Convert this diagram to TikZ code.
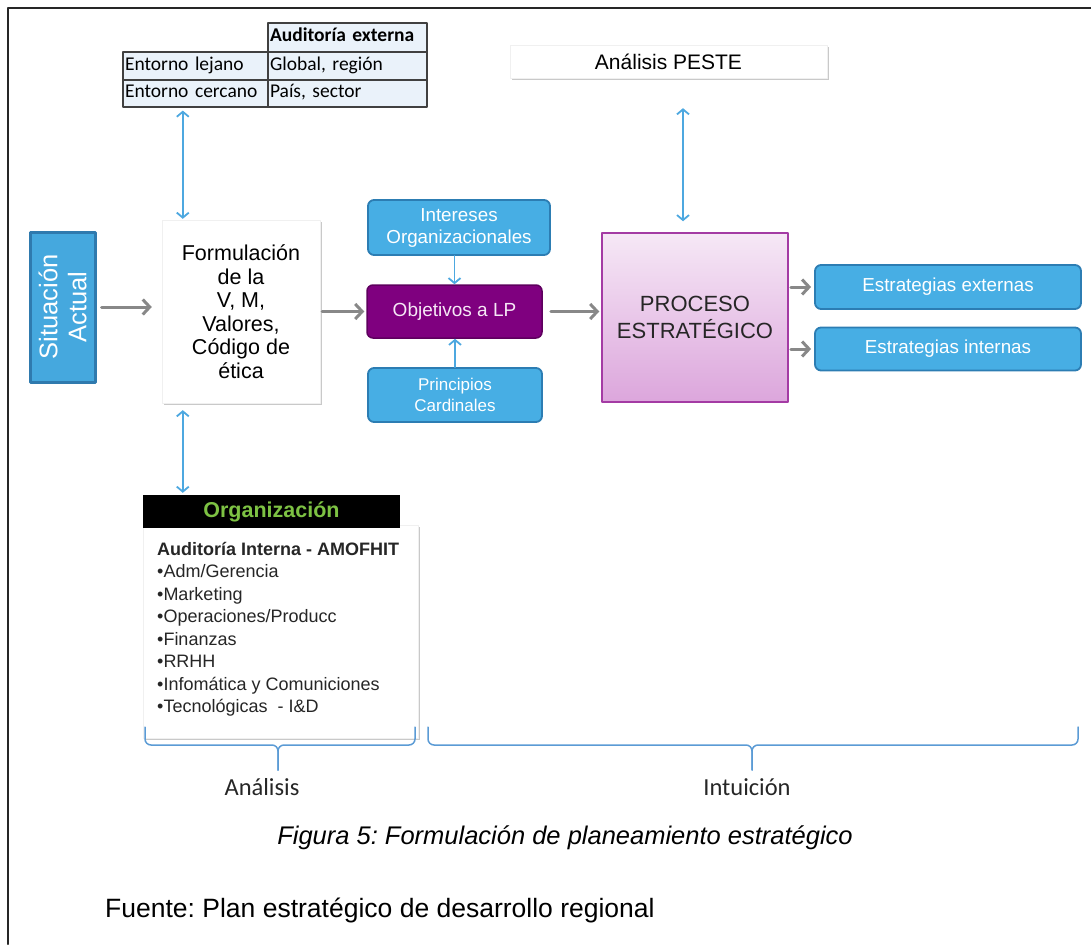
\documentclass[tikz,border=0pt]{standalone}
\usepackage{fontspec}
\setmainfont{Liberation Sans}
\newfontfamily\calibri{Carlito}
\usepackage{tikz}
\usetikzlibrary{arrows.meta, calc, shadows}
\frenchspacing

\begin{document}
\begin{tikzpicture}[x=1pt, y=-1pt, line cap=round, line join=round,
  sombra/.style={drop shadow={shadow xshift=2pt, shadow yshift=-2pt, opacity=0.3, fill=black!70}},
  celda/.style={draw=black!75, line width=1.2pt, fill=celdaFondo, inner xsep=2pt, inner ysep=0pt,
    text height=13pt, text depth=4pt,
    align=left, font=\calibri\fontsize{19.5}{21}\selectfont},
  cajaBlanca/.style={fill=white, draw=black!6, sombra},
  cajaAzul/.style={fill=azulCaja, draw=azulBorde, line width=1.8pt, rounded corners=6pt,
    text=white, align=center},
  flechaGris/.style={draw=grisFlecha, line width=3pt, -{Straight Barb[length=7pt,width=15pt]}},
  flechaAzul/.style={draw=azulFlecha, line width=1.8pt, -{Straight Barb[length=5pt,width=12pt]}},
  dobleAzul/.style={draw=azulFlecha, line width=1.8pt,
    {Straight Barb[length=5pt,width=12pt]}-{Straight Barb[length=5pt,width=12pt]}},
  llave/.style={draw=llaveAzul, line width=1.5pt, rounded corners=6pt}]

  % Colors
  \definecolor{celdaFondo}{HTML}{EAF2FA}
  \definecolor{azulFlecha}{HTML}{4DA8E0}
  \definecolor{azulCaja}{HTML}{47AEE4}
  \definecolor{azulBorde}{HTML}{2C7DB3}
  \definecolor{sitFondo}{HTML}{45A8DE}
  \definecolor{sitBorde}{HTML}{2F7AAE}
  \definecolor{moradoObj}{HTML}{7F007F}
  \definecolor{bordeObj}{HTML}{5E005E}
  \definecolor{procArriba}{HTML}{F6E8F6}
  \definecolor{procAbajo}{HTML}{DCA6DC}
  \definecolor{procBorde}{HTML}{A43BA4}
  \definecolor{grisFlecha}{HTML}{888888}
  \definecolor{verdeOrg}{HTML}{7DC243}
  \definecolor{llaveAzul}{HTML}{5B9BD5}

  \useasboundingbox (0,0) rectangle (1091,944);

  % Frame
  \draw[line width=2pt, black!85] (8,944) -- (8,8) -- (1091,8);

  % External audit table
  \node[celda, text width=155pt, minimum height=29pt] (hdr) at (347.5,37.5) {\bfseries Auditoría externa};
  \node[celda, text width=141pt, minimum height=28pt] (r1a) at (195.5,66) {Entorno lejano};
  \node[celda, text width=155pt, minimum height=28pt] (r1b) at (347.5,66) {Global, región};
  \node[celda, text width=141pt, minimum height=27pt] (r2a) at (195.5,93.5) {Entorno cercano};
  \node[celda, text width=155pt, minimum height=27pt] (r2b) at (347.5,93.5) {País, sector};

  % Situacion actual
  \node[fill=sitFondo, draw=sitBorde, line width=3pt, rotate=90, minimum width=150pt,
    minimum height=65pt, align=center, text=white,
    font=\fontsize{25.5}{29}\selectfont] (sit) at (62.5,307) {Situación\\Actual};

  % Formulacion
  \node[cajaBlanca, minimum width=158pt, minimum height=183pt, align=center,
    font=\fontsize{21.5}{23.5}\selectfont] (form) at (241,311.5)
    {Formulación\\de la\\V, M,\\Valores,\\Código de\\ética};

  % Objectives and inputs
  \node[cajaAzul, minimum width=182pt, minimum height=55pt,
    font=\fontsize{18.8}{22}\selectfont] (inter) at (459,227.5) {Intereses\\Organizacionales};
  \node[fill=moradoObj, draw=bordeObj, line width=1.5pt, rounded corners=6pt, text=procArriba,
    minimum width=175pt, minimum height=53pt,
    font=\fontsize{19}{22}\selectfont] (obj) at (454.5,311.5) {Objetivos a LP};
  \node[cajaAzul, minimum width=174pt, minimum height=54pt,
    font=\fontsize{17}{20.5}\selectfont] (prin) at (455,395) {Principios\\Cardinales};

  % Strategic process
  \node[top color=procArriba, bottom color=procAbajo, draw=procBorde, line width=1.5pt,
    minimum width=186pt, minimum height=169pt, align=center, text=black!85,
    font=\fontsize{22}{27}\selectfont] (proc) at (695,317.5) {PROCESO\\ESTRATÉGICO};
  \node[cajaBlanca, minimum width=317pt, minimum height=33pt,
    font=\fontsize{21}{22}\selectfont] (peste) at (668.5,61.5) {Análisis PESTE};

  % Strategies
  \node[cajaAzul, minimum width=266pt, minimum height=44pt,
    font=\fontsize{18.8}{22}\selectfont] (ext) at (948,287) {Estrategias externas};
  \node[cajaAzul, minimum width=266pt, minimum height=43pt,
    font=\fontsize{18.8}{22}\selectfont] (intn) at (948,349) {Estrategias internas};

  % Organization (internal audit)
  \node[cajaBlanca, minimum width=275pt, minimum height=213pt] (amo) at (280.5,631.5) {};
  \node[fill=black, minimum width=257pt, minimum height=33pt, text=verdeOrg,
    font=\bfseries\fontsize{21.5}{22}\selectfont] (org) at (271.5,511.5) {Organización};
  \node[anchor=north west, align=left, inner sep=0pt, text=black!85,
    font=\fontsize{18}{22.5}\selectfont] (lista) at (157,542)
    {\textbf{Auditoría Interna - AMOFHIT}\\
     •Adm/Gerencia\\
     •Marketing\\
     •Operaciones/Producc\\
     •Finanzas\\
     •RRHH\\
     •Infomática y Comuniciones\\
     •Tecnológicas\ \ - I\&D};

  % Gray flow arrows
  \draw[flechaGris, shorten <=5pt, shorten >=10pt] (sit.south) -- (sit.south -| form.west);
  \draw[flechaGris, shorten <=2pt, shorten >=2pt] (form.east) -- (obj.west);
  \draw[flechaGris, shorten <=8pt, shorten >=2pt] (obj.east) -- (obj.east -| proc.west);
  \draw[flechaGris, shorten <=2pt, shorten >=3pt] (proc.east |- ext.west) -- (ext.west);
  \draw[flechaGris, shorten <=2pt, shorten >=3pt] (proc.east |- intn.west) -- (intn.west);

  % Blue links
  \coordinate (fTop) at ([xshift=21pt]form.north west);
  \coordinate (fBot) at ([xshift=21pt]form.south west);
  \coordinate (pTop) at ([xshift=-12pt]proc.north);
  \draw[dobleAzul, shorten <=3pt, shorten >=1pt] (fTop |- r2a.south) -- (fTop);
  \draw[dobleAzul, shorten <=7pt, shorten >=2pt] (fBot) -- (fBot |- org.north);
  \draw[dobleAzul, shorten <=30pt, shorten >=11pt] (pTop |- peste.south) -- (pTop);
  \draw[flechaAzul] (obj.north |- inter.south) -- (obj.north);
  \draw[flechaAzul] (prin.north) -- (prin.north |- obj.south);

  % Braces
  \draw[llave] (145,727) -- (145,745) -- (278,745) -- (278,770);
  \draw[llave] (415,727) -- (415,745) -- (278,745) -- (278,770);
  \draw[llave] (428,727) -- (428,745) -- (752,745) -- (752,770);
  \draw[llave] (1078,727) -- (1078,745) -- (752,745) -- (752,770);

  \node[font=\calibri\fontsize{24.5}{26}\selectfont, text=black!85] (lAna) at (262,787) {Análisis};
  \node[font=\calibri\fontsize{24.5}{26}\selectfont, text=black!85] (lInt) at (747,787) {Intuición};

  % Caption and source
  \node[font=\itshape\fontsize{25.5}{28}\selectfont] (cap) at (565,838)
    {Figura 5: Formulación de planeamiento estratégico};
  \node[anchor=west, inner sep=0pt, font=\fontsize{26.5}{28}\selectfont] (fuente) at (105,910)
    {Fuente: Plan estratégico de desarrollo regional};

\end{tikzpicture}
\end{document}
